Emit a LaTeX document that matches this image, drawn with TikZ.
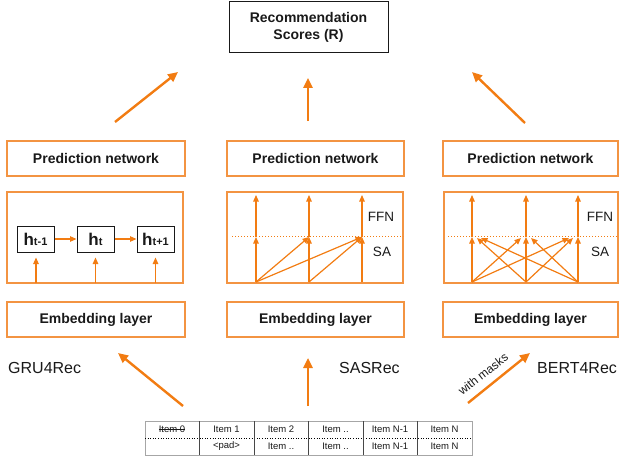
\documentclass[tikz,border=0pt]{standalone}
\usepackage{fontspec}
\setmainfont{Liberation Sans}
\usetikzlibrary{arrows.meta}
\definecolor{arr}{RGB}{242,124,18}
\definecolor{boxor}{RGB}{243,148,66}
\definecolor{txt}{RGB}{25,25,25}
\newcommand\mystrike[1]{\setbox0\hbox{#1}\rlap{\raisebox{0.55ex}{\rule{\wd0}{0.6pt}}}\box0}
\newcommand\hlab[1]{{\fontsize{17}{17}\selectfont\bfseries h}{\fontsize{11}{11}\selectfont\bfseries #1}}
\tikzset{
  bigarrow/.style={draw=arr, line width=2.4pt, -{Triangle[length=10pt,width=9pt]}},
  smallarrow/.style={draw=arr, line width=1.2pt, -{Triangle[length=6.5pt,width=5.5pt]}},
  obox/.style={draw=boxor, line width=1.2pt, rectangle, inner sep=0pt, text=txt,
    font=\fontsize{14}{16}\selectfont\bfseries},
  hbox/.style={draw=txt, line width=1pt, rectangle, inner sep=0pt, minimum width=37pt, minimum height=26pt, text=txt},
  lab/.style={text=txt, font=\fontsize{16}{18}\selectfont, inner sep=0pt},
  sublab/.style={text=txt, font=\fontsize{13.5}{15}\selectfont, inner sep=0pt},
  cell/.style={text=txt, font=\fontsize{9.5}{10}\selectfont, inner sep=0pt},
}
\begin{document}
\begin{tikzpicture}[x=1pt,y=-1pt]
\useasboundingbox (0,0) rectangle (619,460);
% top box
\node[draw=txt, line width=1pt, minimum width=159pt, minimum height=51pt, inner sep=0pt, text=txt,
  font=\fontsize{14}{17}\selectfont\bfseries, align=center] (rec) at (308.5,27.5) {Recommendation\\Scores (R)};
% prediction boxes
\node[obox, minimum width=178pt, minimum height=35pt] (p1) at (96,158.5) {Prediction network};
\node[obox, minimum width=177pt, minimum height=35pt] (p2) at (315.5,158.5) {Prediction network};
\node[obox, minimum width=175pt, minimum height=35pt] (p3) at (530.5,158.5) {Prediction network};
% layer boxes
\node[obox, minimum width=176pt, minimum height=91pt] (l1) at (95,237.5) {};
\node[obox, minimum width=176pt, minimum height=91pt] (l2) at (315,237.5) {};
\node[obox, minimum width=174pt, minimum height=91pt] (l3) at (531,237.5) {};
% embedding boxes
\node[obox, minimum width=178pt, minimum height=35pt] (e1) at (96,319.5) {Embedding layer};
\node[obox, minimum width=177pt, minimum height=35pt] (e2) at (315.5,319.5) {Embedding layer};
\node[obox, minimum width=175pt, minimum height=35pt] (e3) at (530.5,319.5) {Embedding layer};
% top arrows
\coordinate (ta1s) at (115,122); \coordinate (ta1e) at (178,72);
\coordinate (ta2s) at (308,121); \coordinate (ta2e) at (308,78);
\coordinate (ta3s) at (525,123); \coordinate (ta3e) at (472,72);
\draw[bigarrow] (ta1s) -- (ta1e);
\draw[bigarrow] (ta2s) -- (ta2e);
\draw[bigarrow] (ta3s) -- (ta3e);
% GRU4Rec
\node[hbox] (h1) at (35.5,239) {\hlab{t-1}};
\node[hbox] (h2) at (95.5,239) {\hlab{t}};
\node[hbox] (h3) at (155.5,239) {\hlab{t+1}};
\draw[smallarrow] (h1) -- (h2);
\draw[smallarrow] (h2) -- (h3);
\foreach \x/\n in {36/h1,95.5/h2,155.5/h3}{
  \coordinate (gb\n) at (\x,283);
  \draw[smallarrow, shorten >=5pt] (gb\n) -- (\n.south -| gb\n);
}
% SASRec
\draw[arr, line width=1pt, dotted] (232,236) -- (403,236);
\node[sublab] (ffn2) at (381,217) {FFN};
\node[sublab] (sa2) at (382,252) {SA};
\foreach \i/\x in {1/256,2/309,3/362}{
  \coordinate (sb\i) at (\x,282);
  \coordinate (sm\i) at (\x,237);
  \coordinate (st\i) at (\x,195);
  \draw[smallarrow] (sb\i) -- (sm\i);
  \draw[smallarrow] (sm\i) -- (st\i);
}
\draw[smallarrow] (sb1) -- (sm2);
\draw[smallarrow] (sb1) -- (sm3);
\draw[smallarrow] (sb2) -- (sm3);
% BERT4Rec
\draw[arr, line width=1pt, dotted] (448,236) -- (619,236);
\node[sublab] (ffn3) at (600,217) {FFN};
\node[sublab] (sa3) at (600,252) {SA};
\foreach \i/\x in {1/472,2/526,3/578}{
  \coordinate (bb\i) at (\x,282);
  \coordinate (bm\i) at (\x,237);
  \coordinate (bt\i) at (\x,195);
  \draw[smallarrow] (bb\i) -- (bm\i);
  \draw[smallarrow] (bm\i) -- (bt\i);
}
\coordinate (bm1r) at (477,238); \coordinate (bm1rr) at (481,238);
\coordinate (bm2l) at (521,238); \coordinate (bm2r) at (531,238);
\coordinate (bm3l) at (573,238); \coordinate (bm3ll) at (569,238);
\draw[smallarrow] (bb1) -- (bm2l);
\draw[smallarrow] (bb1) -- (bm3ll);
\draw[smallarrow] (bb2) -- (bm1r);
\draw[smallarrow] (bb2) -- (bm3l);
\draw[smallarrow] (bb3) -- (bm1rr);
\draw[smallarrow] (bb3) -- (bm2r);
% model labels
\node[lab, anchor=base west] (gru) at (8,373) {GRU4Rec};
\node[lab, anchor=base west] (sas) at (339,373) {SASRec};
\node[lab, anchor=base west] (bert) at (537,373) {BERT4Rec};
% bottom arrows
\coordinate (ba1s) at (183,406); \coordinate (ba1e) at (118,353);
\coordinate (ba2s) at (308,406); \coordinate (ba2e) at (308,358);
\coordinate (ba3s) at (468,403); \coordinate (ba3e) at (530,353);
\draw[bigarrow] (ba1s) -- (ba1e);
\draw[bigarrow] (ba2s) -- (ba2e);
\draw[bigarrow] (ba3s) -- (ba3e);
\node[text=txt, font=\fontsize{12}{13}\selectfont, rotate=38, inner sep=0pt] (wm) at (483,374) {with masks};
% table
\draw[gray!70, line width=0.8pt] (145,421) rectangle (472,455);
\draw[black, line width=0.6pt, dotted] (145,438) -- (472,438);
\foreach \x in {199,254,308,363,417}{
  \draw[txt!80, line width=0.8pt] (\x,421) -- (\x,455);
}
\node[cell] (c11) at (172,429.5) {\mystrike{Item 0}};
\node[cell] (c12) at (226.5,429.5) {Item 1};
\node[cell] (c13) at (281,429.5) {Item 2};
\node[cell] (c14) at (335.5,429.5) {Item ..};
\node[cell] (c15) at (390,429.5) {Item N-1};
\node[cell] (c16) at (444.5,429.5) {Item N};
\node[cell] (c22) at (226.5,446.5) {<pad>};
\node[cell] (c23) at (281,446.5) {Item ..};
\node[cell] (c24) at (335.5,446.5) {Item ..};
\node[cell] (c25) at (390,446.5) {Item N-1};
\node[cell] (c26) at (444.5,446.5) {Item N};
\end{tikzpicture}
\end{document}
